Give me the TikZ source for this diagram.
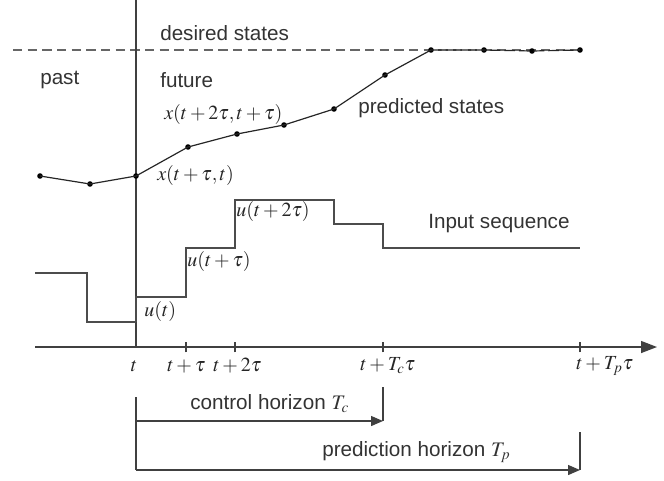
\documentclass[tikz,border=0pt]{standalone}
\usepackage{mathptmx}
\usepackage{fontspec}
\setmainfont{Liberation Sans}
\usetikzlibrary{arrows.meta}
\begin{document}
\begin{tikzpicture}[x=0.75pt,y=-0.75pt,
  lbl/.style={font=\fontsize{15.5}{18}\selectfont, text=black!80, inner sep=0pt, anchor=west},
  mlbl/.style={font=\fontsize{15}{18}\selectfont, text=black!85, inner sep=0pt, anchor=west},
  dot/.style={circle, fill=black, inner sep=0pt, minimum size=4.2pt},
  axisline/.style={draw=black!75, line width=1pt},
  stepline/.style={draw=black!70, line width=1pt},
  stateline/.style={draw=black!85, line width=0.9pt},
  desired/.style={draw=black!60, line width=1pt, dash pattern=on 7pt off 4pt},
  horiz/.style={draw=black!75, line width=1pt},
  tip/.style={-{Triangle[length=9pt,width=7.5pt]}}
]
\useasboundingbox (0,0) rectangle (664,480);

% coordinates
\coordinate (top) at (136,0);
\coordinate (axL) at (35,347);
\coordinate (axR) at (657,347);
\coordinate (t0) at (136,347);
\coordinate (t1) at (186,347);
\coordinate (t2) at (235,347);
\coordinate (tc) at (383,347);
\coordinate (tp) at (580,347);
\coordinate (dL) at (13,50);
\coordinate (dR) at (580,50);

% desired states
\draw[desired] (dL) -- (dR);

% time axis and present line
\draw[axisline] (top) -- (t0);
\draw[axisline, -{Triangle[length=12pt,width=9pt]}] (axL) -- (axR);
\foreach \p in {t1,t2,tc,tp} \draw[axisline, line width=0.8pt] ([yshift=-4pt]\p) -- ([yshift=4pt]\p);

% predicted states
\node[dot] (s1) at (40,176) {};
\node[dot] (s2) at (90,184) {};
\node[dot] (s3) at (136,176) {};
\node[dot] (s4) at (188,147) {};
\node[dot] (s5) at (237,134) {};
\node[dot] (s6) at (284,125) {};
\node[dot] (s7) at (334,109) {};
\node[dot] (s8) at (385,75) {};
\node[dot] (s9) at (431,50) {};
\node[dot] (s10) at (484,50) {};
\node[dot] (s11) at (532,51) {};
\node[dot] (s12) at (580,50) {};
\draw[stateline] (s1.center) -- (s2.center) -- (s3.center) -- (s4.center) -- (s5.center) -- (s6.center) -- (s7.center) -- (s8.center) -- (s9.center);
\draw[stateline, dash pattern=on 8pt off 3pt] (s9.center) -- (s10.center) -- (s11.center) -- (s12.center);

% input sequence
\draw[stepline] (35,273) -- (87,273) -- (87,322) -- (136,322);
\draw[stepline] (136,322) -- (136,297) -- (186,297) -- (186,248) -- (235,248) -- (235,200)
  -- (334,200) -- (334,224) -- (383,224) -- (383,248) -- (580,248);

% horizons
\coordinate (cL) at (136,421);
\coordinate (cR) at (383,421);
\coordinate (cT) at (383,387);
\coordinate (pL) at (136,470);
\coordinate (pR) at (580,470);
\coordinate (pT) at (580,432);
\coordinate (vT) at (136,397);
\draw[horiz] (vT) -- (pL);
\draw[horiz, tip] (cL) -- (cR);
\draw[horiz] (cT) -- (cR);
\draw[horiz, tip] (pL) -- (pR);
\draw[horiz] (pT) -- (pR);

% text labels
\node[lbl] (ldes) at (160,33) {desired states};
\node[lbl] (lpast) at (40,80) {past};
\node[lbl] (lfut) at (160,80) {future};
\node[lbl] (lpred) at (358,108) {predicted states};
\node[lbl] (linp) at (428,224) {Input sequence};
\node[lbl] (lch) at (190,404) {control horizon $T_c$};
\node[lbl] (lph) at (322,452) {prediction horizon $T_p$};

\node[mlbl] (x2) at (164,114) {$x(t+2\tau,t+\tau)$};
\node[mlbl] (x1) at (157,175) {$x(t+\tau,t)$};
\node[mlbl] (u0) at (144,311) {$u(t)$};
\node[mlbl] (u1) at (187,261) {$u(t+\tau)$};
\node[mlbl] (u2) at (236,211) {$u(t+2\tau)$};

\node[mlbl, anchor=center] (lt0) at (134,366) {$t$};
\node[mlbl] (lt1) at (167,366) {$t+\tau$};
\node[mlbl] (lt2) at (213,366) {$t+2\tau$};
\node[mlbl] (ltc) at (360,366) {$t+T_c\tau$};
\node[mlbl] (ltp) at (576,366) {$t+T_p\tau$};
\end{tikzpicture}
\end{document}
